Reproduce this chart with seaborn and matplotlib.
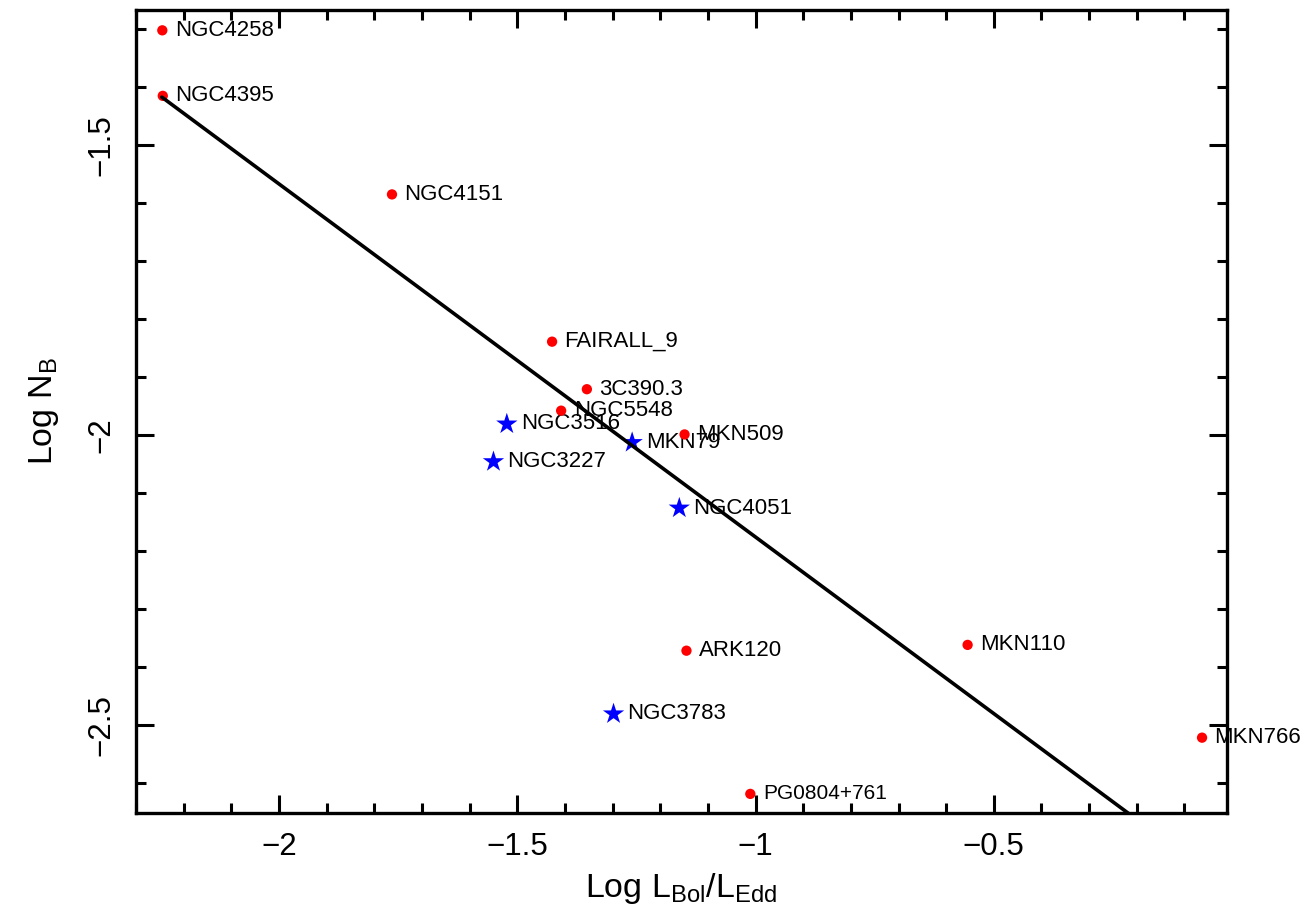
import numpy as np
import pandas as pd
import matplotlib
matplotlib.use("Agg")
import matplotlib.pyplot as plt
import seaborn as sns
from matplotlib.ticker import MultipleLocator

sns.set_theme(style="ticks")
plt.rcParams['font.family'] = ['Liberation Sans', 'DejaVu Sans']
plt.rcParams['mathtext.fontset'] = 'custom'
plt.rcParams['mathtext.rm'] = 'Liberation Sans'
plt.rcParams['mathtext.it'] = 'Liberation Sans'
plt.rcParams['text.color'] = 'black'
plt.rcParams['axes.labelcolor'] = 'black'

# red circles
red_names = ["NGC4258", "NGC4395", "NGC4151", "FAIRALL_9", "3C390.3", "NGC5548",
             "MKN509", "ARK120", "MKN110", "MKN766", "PG0804+761"]
red_x = [-2.245, -2.244, -1.763, -1.427, -1.354, -1.408, -1.149, -1.145, -0.555, -0.063, -1.011]
red_y = [-1.302, -1.415, -1.585, -1.839, -1.921, -1.958, -1.999, -2.372, -2.362, -2.522, -2.619]

# blue stars
blue_names = ["NGC3516", "MKN79", "NGC3227", "NGC4051", "NGC3783"]
blue_x = [-1.522, -1.259, -1.550, -1.160, -1.298]
blue_y = [-1.981, -2.013, -2.046, -2.126, -2.481]

# linear relation
fit_slope = -0.609
fit_intercept = -2.785
fit_x = [-2.246, -0.06]

red_df = pd.DataFrame({"x": red_x, "y": red_y, "name": red_names})
blue_df = pd.DataFrame({"x": blue_x, "y": blue_y, "name": blue_names})
fit_df = pd.DataFrame({"x": fit_x, "y": [fit_slope * v + fit_intercept for v in fit_x]})

fig = plt.figure(figsize=(13.04, 9.13), dpi=100)
ax = fig.add_axes([0.104, 0.1095, 0.837, 0.8795])

sns.scatterplot(data=red_df, x="x", y="y", ax=ax, color="#ff0000", marker="o",
                s=55, edgecolor="none", zorder=3)
sns.scatterplot(data=blue_df, x="x", y="y", ax=ax, color="#0000ff", marker="*",
                s=260, edgecolor="none", zorder=3)
sns.lineplot(data=fit_df, x="x", y="y", ax=ax, color="black", linewidth=2.6, zorder=4)

for _, r in red_df.iterrows():
    fs = 15 if r["name"] == "PG0804+761" else 16
    ax.annotate(r["name"], (r["x"], r["y"]), xytext=(9, 0), textcoords="offset points",
                va="center", ha="left", fontsize=fs, color="black", zorder=2)
for _, r in blue_df.iterrows():
    ax.annotate(r["name"], (r["x"], r["y"]), xytext=(10, 0), textcoords="offset points",
                va="center", ha="left", fontsize=16, color="black", zorder=2)

ax.set_xlim(-2.301, -0.0105)
ax.set_ylim(-2.652, -1.267)
ax.xaxis.set_minor_locator(MultipleLocator(0.1))
ax.yaxis.set_minor_locator(MultipleLocator(0.1))
ax.set_xticks([-2, -1.5, -1, -0.5])
ax.set_xticklabels(["\u22122", "\u22121.5", "\u22121", "\u22120.5"])
ax.set_yticks([-2.5, -2, -1.5])
ax.set_yticklabels(["\u22122.5", "\u22122", "\u22121.5"], rotation=90, va="center")

ax.tick_params(which="both", direction="in", top=True, right=True, width=2.2, color="black",
               labelsize=22.5, labelcolor="black")
ax.tick_params(which="major", length=13, pad=14)
ax.tick_params(which="minor", length=7)
for sp in ax.spines.values():
    sp.set_linewidth(2.4)
    sp.set_color("black")

ax.set_xlabel(r"Log L$_\mathrm{Bol}$/L$_\mathrm{Edd}$", fontsize=24.5, labelpad=6)
ax.set_ylabel(r"Log N$_\mathrm{B}$", fontsize=24.5, labelpad=18)

fig.savefig("out.png", dpi=100)
